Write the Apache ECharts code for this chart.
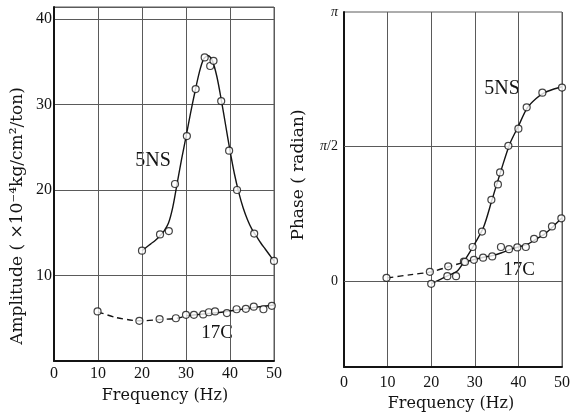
<!DOCTYPE html>
<html>
<head>
<meta charset="utf-8">
<script src="https://cdn.jsdelivr.net/npm/echarts@6/dist/echarts.min.js"></script>
<style>
  html, body { margin: 0; padding: 0; background: #fff; }
  #main { width: 579px; height: 415px; }
</style>
</head>
<body>
<div id="main"></div>
<script>
// amplitude, 5NS: measured points
var amp5nsF = [20, 24.1, 26.1, 27.5, 30.2, 32.2, 34.25, 35.5, 36.25, 38.0, 39.8, 41.6, 45.5, 50];
var amp5nsV = [12.9, 14.8, 15.2, 20.7, 26.3, 31.8, 35.5, 34.5, 35.1, 30.4, 24.6, 20.0, 14.9, 11.7];
// amplitude, 5NS: drawn curve
var amp5nsCurveF = [20, 21, 22, 23, 24, 25, 26, 27, 28, 29, 30, 31, 32, 33, 34, 35, 36, 37, 38, 39, 40, 41, 42, 43, 44, 45, 46, 47, 48, 49, 50];
var amp5nsCurveV = [12.9, 13.3, 13.7, 14.1, 14.6, 15.2, 16.1, 18.0, 20.8, 23.6, 26.2, 28.9, 31.4, 33.7, 35.3, 35.7, 35.1, 33.3, 30.6, 27.6, 24.6, 21.9, 19.7, 17.9, 16.5, 15.4, 14.6, 13.8, 13.1, 12.4, 11.7];

// amplitude, 17C
var amp17cF = [9.9, 19.4, 24.0, 27.7, 30.0, 31.8, 33.9, 35.2, 36.6, 39.3, 41.5, 43.6, 45.4, 47.6, 49.5];
var amp17cV = [5.8, 4.7, 4.9, 5.0, 5.4, 5.4, 5.45, 5.7, 5.8, 5.6, 6.05, 6.1, 6.35, 6.05, 6.45];
var amp17cDashF = [10, 14, 18, 20, 24, 28, 30];
var amp17cDashV = [5.75, 5.1, 4.75, 4.7, 4.85, 5.0, 5.3];
var amp17cSolidF = [30, 34, 38, 42, 46, 50];
var amp17cSolidV = [5.3, 5.5, 5.7, 6.0, 6.3, 6.55];

// phase, 5NS
var ph5nsF = [20, 23.7, 25.7, 27.5, 29.5, 31.65, 33.8, 35.3, 35.8, 37.7, 40.0, 41.9, 45.5, 50];
var ph5nsV = [-0.03, 0.06, 0.06, 0.23, 0.40, 0.58, 0.95, 1.13, 1.27, 1.58, 1.78, 2.03, 2.20, 2.26];
var ph5nsCurveF = [20, 22, 24, 26, 28, 30, 32, 34, 36, 38, 40, 42, 44, 46, 48, 50];
var ph5nsCurveV = [-0.03, 0.02, 0.07, 0.12, 0.27, 0.44, 0.63, 0.96, 1.29, 1.60, 1.81, 2.02, 2.13, 2.20, 2.24, 2.27];

// phase, 17C
var ph17cF = [9.75, 19.7, 23.9, 27.75, 29.8, 31.9, 34.0, 36.0, 37.85, 39.75, 41.7, 43.6, 45.7, 47.7, 49.85];
var ph17cV = [0.04, 0.11, 0.175, 0.225, 0.25, 0.275, 0.29, 0.40, 0.375, 0.395, 0.40, 0.495, 0.55, 0.64, 0.735];
var ph17cDashF = [10, 15, 20, 24, 27.75];
var ph17cDashV = [0.04, 0.075, 0.11, 0.17, 0.225];
var ph17cSolidF = [27.75, 30, 32, 34, 36, 38, 40, 42, 44, 46, 48, 50];
var ph17cSolidV = [0.225, 0.255, 0.28, 0.30, 0.33, 0.37, 0.40, 0.43, 0.49, 0.55, 0.64, 0.74];

var freqTicks = [0, 10, 20, 30, 40, 50];
var ampTicks = [10, 20, 30, 40];
var phaseTicks = [0, Math.PI / 2, Math.PI];
var phaseTickLabels = ['0', '{i|π}/2', '{i|π}'];

function pairs(xs, ys) {
    return xs.map(function (x, i) { return [x, ys[i]]; });
}

var serif = 'Liberation Serif';
var ink = '#141414';
var gridCol = '#5a5a5a';

var myChart = echarts.init(document.getElementById('main'));

function curve(name, xi, xs, ys, dashed) {
    return {
        name: name, type: 'line', xAxisIndex: xi, yAxisIndex: xi,
        data: pairs(xs, ys), smooth: 0.3, showSymbol: false, silent: true,
        lineStyle: { color: ink, width: 1.4, type: dashed ? [6, 4] : 'solid' },
        z: 3
    };
}
function dots(name, xi, xs, ys) {
    return {
        name: name, type: 'scatter', xAxisIndex: xi, yAxisIndex: xi,
        data: pairs(xs, ys), symbol: 'circle', symbolSize: 7, silent: true,
        itemStyle: { color: '#fff', borderColor: ink, borderWidth: 1.2 },
        z: 5
    };
}

var option = {
    backgroundColor: '#fff',
    animation: false,
    grid: [
        { left: 54, top: 7, width: 220, height: 354, show: true, borderColor: gridCol, borderWidth: 1 },
        { left: 344, top: 12, width: 218, height: 355, show: true, borderColor: gridCol, borderWidth: 1 }
    ],
    xAxis: [0, 1].map(function (i) {
        return {
            type: 'value', gridIndex: i, min: 0, max: 50, interval: 10,
            axisLine: { show: true, onZero: false, lineStyle: { color: ink, width: 2 } },
            axisTick: { show: false },
            splitLine: { show: true, lineStyle: { color: gridCol, width: 1 } },
            axisLabel: {
                margin: i === 0 ? 5 : 8, color: ink, fontFamily: serif, fontSize: 16,
                formatter: function (v) { return freqTicks.indexOf(v) >= 0 ? String(v) : ''; }
            }
        };
    }),
    yAxis: [
        {
            type: 'value', gridIndex: 0, min: 0, max: 41.4, interval: 10,
            axisLine: { show: true, lineStyle: { color: ink, width: 2 } },
            axisTick: { show: false },
            splitLine: { show: true, lineStyle: { color: gridCol, width: 1 } },
            axisLabel: {
                margin: 2, color: ink, fontFamily: serif, fontSize: 16,
                formatter: function (v) { return ampTicks.indexOf(v) >= 0 ? String(v) : ''; }
            }
        },
        {
            type: 'value', gridIndex: 1, min: -1, max: Math.PI,
            axisLine: { show: true, lineStyle: { color: ink, width: 2 } },
            axisTick: { show: false },
            splitLine: { show: false },
            axisLabel: {
                customValues: phaseTicks,
                margin: 6, color: ink, fontFamily: serif, fontSize: 14,
                formatter: function (v) {
                    for (var k = 0; k < phaseTicks.length; k++) {
                        if (Math.abs(phaseTicks[k] - v) < 1e-6) return phaseTickLabels[k];
                    }
                    return '';
                },
                rich: { i: { fontStyle: 'italic', fontFamily: serif, fontSize: 14, color: ink } }
            }
        }
    ],
    series: [
        curve('5NS amp', 0, amp5nsCurveF, amp5nsCurveV, false),
        dots('5NS amp pts', 0, amp5nsF, amp5nsV),
        curve('17C amp a', 0, amp17cDashF, amp17cDashV, true),
        curve('17C amp b', 0, amp17cSolidF, amp17cSolidV, false),
        dots('17C amp pts', 0, amp17cF, amp17cV),
        (function () {
            var s = curve('5NS phase', 1, ph5nsCurveF, ph5nsCurveV, false);
            s.markLine = {
                silent: true, symbol: 'none', label: { show: false },
                lineStyle: { color: gridCol, width: 1, type: 'solid' },
                data: [{ yAxis: phaseTicks[0] }, { yAxis: phaseTicks[1] }]
            };
            return s;
        })(),
        dots('5NS phase pts', 1, ph5nsF, ph5nsV),
        curve('17C phase a', 1, ph17cDashF, ph17cDashV, true),
        curve('17C phase b', 1, ph17cSolidF, ph17cSolidV, false),
        dots('17C phase pts', 1, ph17cF, ph17cV)
    ],
    graphic: [
        { type: 'text', x: 18, y: 216, rotation: Math.PI / 2, style: {
            text: 'Amplitude ( ×10⁻⁴kg/cm²/ton)', fill: ink, font: '17px "DejaVu Serif"',
            align: 'center', verticalAlign: 'middle' } },
        { type: 'text', x: 299, y: 175, rotation: Math.PI / 2, style: {
            text: 'Phase ( radian)', fill: ink, font: '17px "DejaVu Serif"',
            align: 'center', verticalAlign: 'middle' } },
        { type: 'text', x: 165, y: 396, style: {
            text: 'Frequency (Hz)', fill: ink, font: '16px "DejaVu Serif"',
            align: 'center', verticalAlign: 'middle' } },
        { type: 'text', x: 451, y: 404, style: {
            text: 'Frequency (Hz)', fill: ink, font: '16px "DejaVu Serif"',
            align: 'center', verticalAlign: 'middle' } },
        { type: 'text', x: 153, y: 161, style: {
            text: '5NS', fill: ink, font: '20px "Liberation Serif"', align: 'center', verticalAlign: 'middle' } },
        { type: 'text', x: 217, y: 333, style: {
            text: '17C', fill: ink, font: '19px "Liberation Serif"', align: 'center', verticalAlign: 'middle' } },
        { type: 'text', x: 502, y: 89, style: {
            text: '5NS', fill: ink, font: '20px "Liberation Serif"', align: 'center', verticalAlign: 'middle' } },
        { type: 'text', x: 519, y: 270, style: {
            text: '17C', fill: ink, font: '19px "Liberation Serif"', align: 'center', verticalAlign: 'middle' } }
    ]
};

myChart.setOption(option);
</script>
</body>
</html>
